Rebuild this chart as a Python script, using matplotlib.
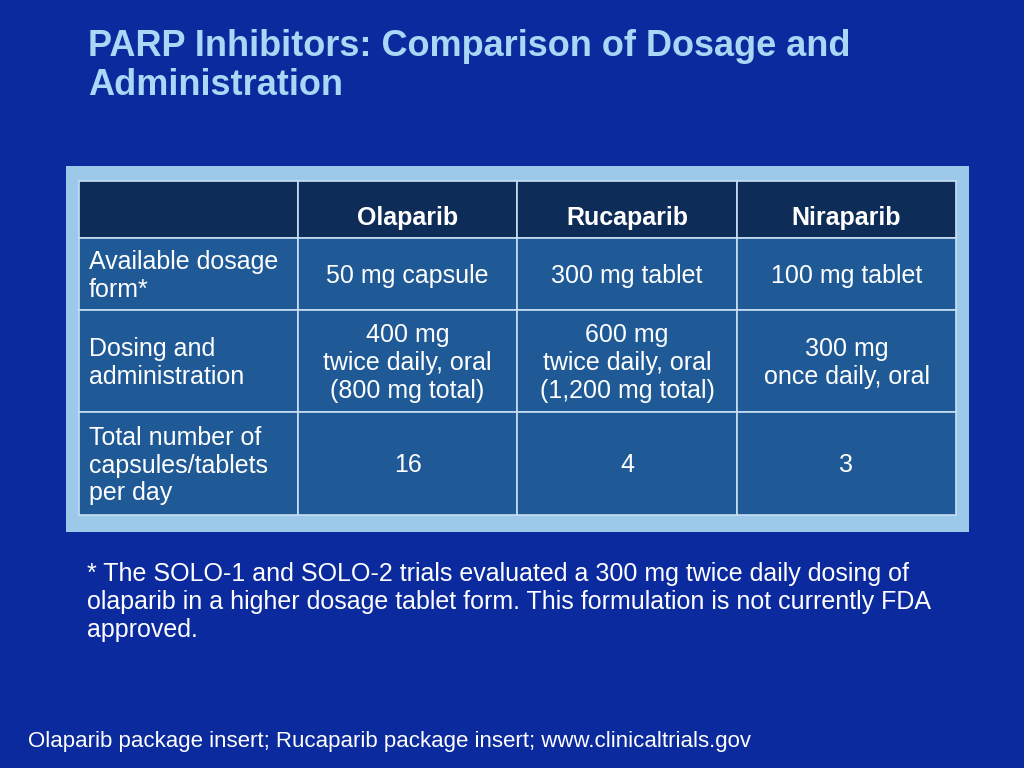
import matplotlib
matplotlib.use("Agg")
import matplotlib.pyplot as plt
from matplotlib.patches import Rectangle

title = "PARP Inhibitors: Comparison of Dosage and\nAdministration"
columns = ["", "Olaparib", "Rucaparib", "Niraparib"]
row_labels = ["Available dosage\nform*", "Dosing and\nadministration", "Total number of\ncapsules/tablets\nper day"]
cells = [
    ["50 mg capsule", "300 mg tablet", "100 mg tablet"],
    ["400 mg\ntwice daily, oral\n(800 mg total)", "600 mg\ntwice daily, oral\n(1,200 mg total)", "300 mg\nonce daily, oral"],
    ["16", "4", "3"],
]
footnote = "* The SOLO-1 and SOLO-2 trials evaluated a 300 mg twice daily dosing of\nolaparib in a higher dosage tablet form. This formulation is not currently FDA\napproved."
source = "Olaparib package insert; Rucaparib package insert; www.clinicaltrials.gov"

col_x = [79, 298, 517, 737, 956]
row_y = [181, 238, 310, 412, 515]

plt.rcParams["font.family"] = "Liberation Sans"
fig = plt.figure(figsize=(10.24, 7.68), dpi=100)
fig.patch.set_facecolor("#0B2A9E")
ax = fig.add_axes([0, 0, 1, 1])
ax.set_xlim(0, 1024); ax.set_ylim(768, 0); ax.axis("off")

ax.text(88, 66, title, color="#A8D8F5", fontsize=26, fontweight="bold", va="center", ha="left", linespacing=1.15)
ax.add_patch(Rectangle((66, 166), 903, 366, facecolor="#9CC8EA", edgecolor="none"))

for r in range(len(row_y)-1):
    for c in range(len(col_x)-1):
        fc = "#0E2C58" if r == 0 else "#1F5A97"
        ax.add_patch(Rectangle((col_x[c], row_y[r]), col_x[c+1]-col_x[c], row_y[r+1]-row_y[r],
                               facecolor=fc, edgecolor="#C8DFF2", lw=1.2))

fs = 18
for c, name in enumerate(columns):
    ax.text((col_x[c]+col_x[c+1])/2, (row_y[0]+row_y[1])/2 + 9, name, color="white", fontsize=fs,
            fontweight="bold", ha="center", va="center")
for r, lab in enumerate(row_labels):
    yc = (row_y[r+1]+row_y[r+2])/2 + 2
    ax.text(89, yc, lab, color="white", fontsize=fs, ha="left", va="center", linespacing=1.2)
    for c, val in enumerate(cells[r]):
        ax.text((col_x[c+1]+col_x[c+2])/2, yc, val, color="white", fontsize=fs, ha="center", va="center", linespacing=1.2)

ax.text(87, 602, footnote, color="white", fontsize=18, ha="left", va="center", linespacing=1.2)
ax.text(28, 742, source, color="white", fontsize=16, ha="left", va="center")
fig.savefig("out.png", dpi=100, facecolor=fig.get_facecolor())
